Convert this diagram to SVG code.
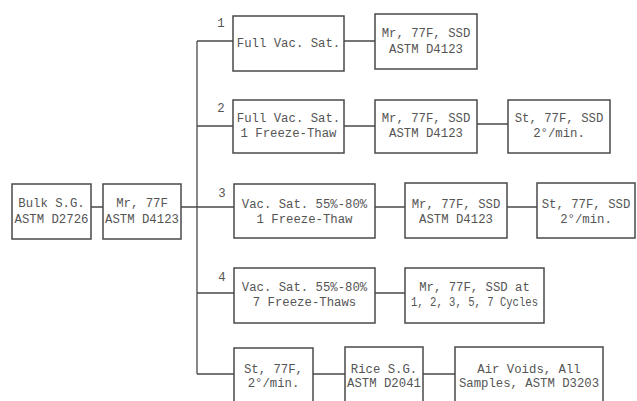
<svg xmlns="http://www.w3.org/2000/svg" width="637" height="401" viewBox="0 0 637 401">
<style>
.b{fill:#fff;stroke:#4a4a4a;stroke-width:1.5}
.c{fill:none;stroke:#4a4a4a;stroke-width:1.3}
text{font-family:"Liberation Mono","DejaVu Sans Mono",monospace;font-size:12.3px;fill:#555;text-anchor:middle}
</style>
<rect width="637" height="401" fill="#fff"/>
<g id="connectors">
<path class="c" d="M90,207H103M181,207H234M197,41V374M197,41H233M197,126H233M197,293H234M197,374H234"/>
<path class="c" d="M344,41H375M344,126H375M477,124H508M375,207H405M507,207H537M375,293H405M313,374H345M423,374H455"/>
</g>
<g id="bulk"><rect class="b" x="12" y="184" width="79" height="55"/><text x="51.5" y="207">Bulk S.G.</text><text x="51.5" y="223">ASTM D2726</text></g>
<g id="mr_main"><rect class="b" x="103" y="184" width="78" height="55"/><text x="142" y="207">Mr, 77F</text><text x="142" y="223">ASTM D4123</text></g>
<g id="labels"><text x="221" y="27">1</text><text x="221" y="112">2</text><text x="222" y="197">3</text><text x="222" y="281">4</text></g>
<g id="b1a"><rect class="b" x="233" y="16" width="111" height="55"/><text x="288.5" y="47">Full Vac. Sat.</text></g>
<g id="b1b"><rect class="b" x="375" y="14" width="102" height="55"/><text x="426" y="37">Mr, 77F, SSD</text><text x="426" y="53">ASTM D4123</text></g>
<g id="b2a"><rect class="b" x="233" y="100" width="111" height="53"/><text x="288.5" y="122">Full Vac. Sat.</text><text x="288.5" y="137">1 Freeze-Thaw</text></g>
<g id="b2b"><rect class="b" x="375" y="100" width="102" height="53"/><text x="426" y="122">Mr, 77F, SSD</text><text x="426" y="137">ASTM D4123</text></g>
<g id="b2c"><rect class="b" x="508" y="100" width="102" height="53"/><text x="559" y="122">St, 77F, SSD</text><text x="559" y="137">2°/min.</text></g>
<g id="b3a"><rect class="b" x="234" y="184" width="141" height="54"/><text x="304.5" y="208">Vac. Sat. 55%-80%</text><text x="304.5" y="223">1 Freeze-Thaw</text></g>
<g id="b3b"><rect class="b" x="405" y="183" width="102" height="55"/><text x="456" y="208">Mr, 77F, SSD</text><text x="456" y="223">ASTM D4123</text></g>
<g id="b3c"><rect class="b" x="537" y="183" width="98" height="55"/><text x="586" y="208">St, 77F, SSD</text><text x="586" y="223">2°/min.</text></g>
<g id="b4a"><rect class="b" x="234" y="268" width="141" height="55"/><text x="304.5" y="291">Vac. Sat. 55%-80%</text><text x="304.5" y="306">7 Freeze-Thaws</text></g>
<g id="b4b"><rect class="b" x="405" y="268" width="139" height="55"/><text x="474.5" y="291">Mr, 77F, SSD at</text><text x="474.5" y="306" textLength="127" lengthAdjust="spacingAndGlyphs">1, 2, 3, 5, 7 Cycles</text></g>
<g id="b5a"><rect class="b" x="234" y="348" width="79" height="58"/><text x="273.5" y="373">St, 77F,</text><text x="273.5" y="387">2°/min.</text></g>
<g id="b5b"><rect class="b" x="345" y="347" width="78" height="59"/><text x="384" y="373">Rice S.G.</text><text x="384" y="387">ASTM D2041</text></g>
<g id="b5c"><rect class="b" x="455" y="347" width="148" height="59"/><text x="529" y="373">Air Voids, All</text><text x="529" y="387">Samples, ASTM D3203</text></g>
</svg>
